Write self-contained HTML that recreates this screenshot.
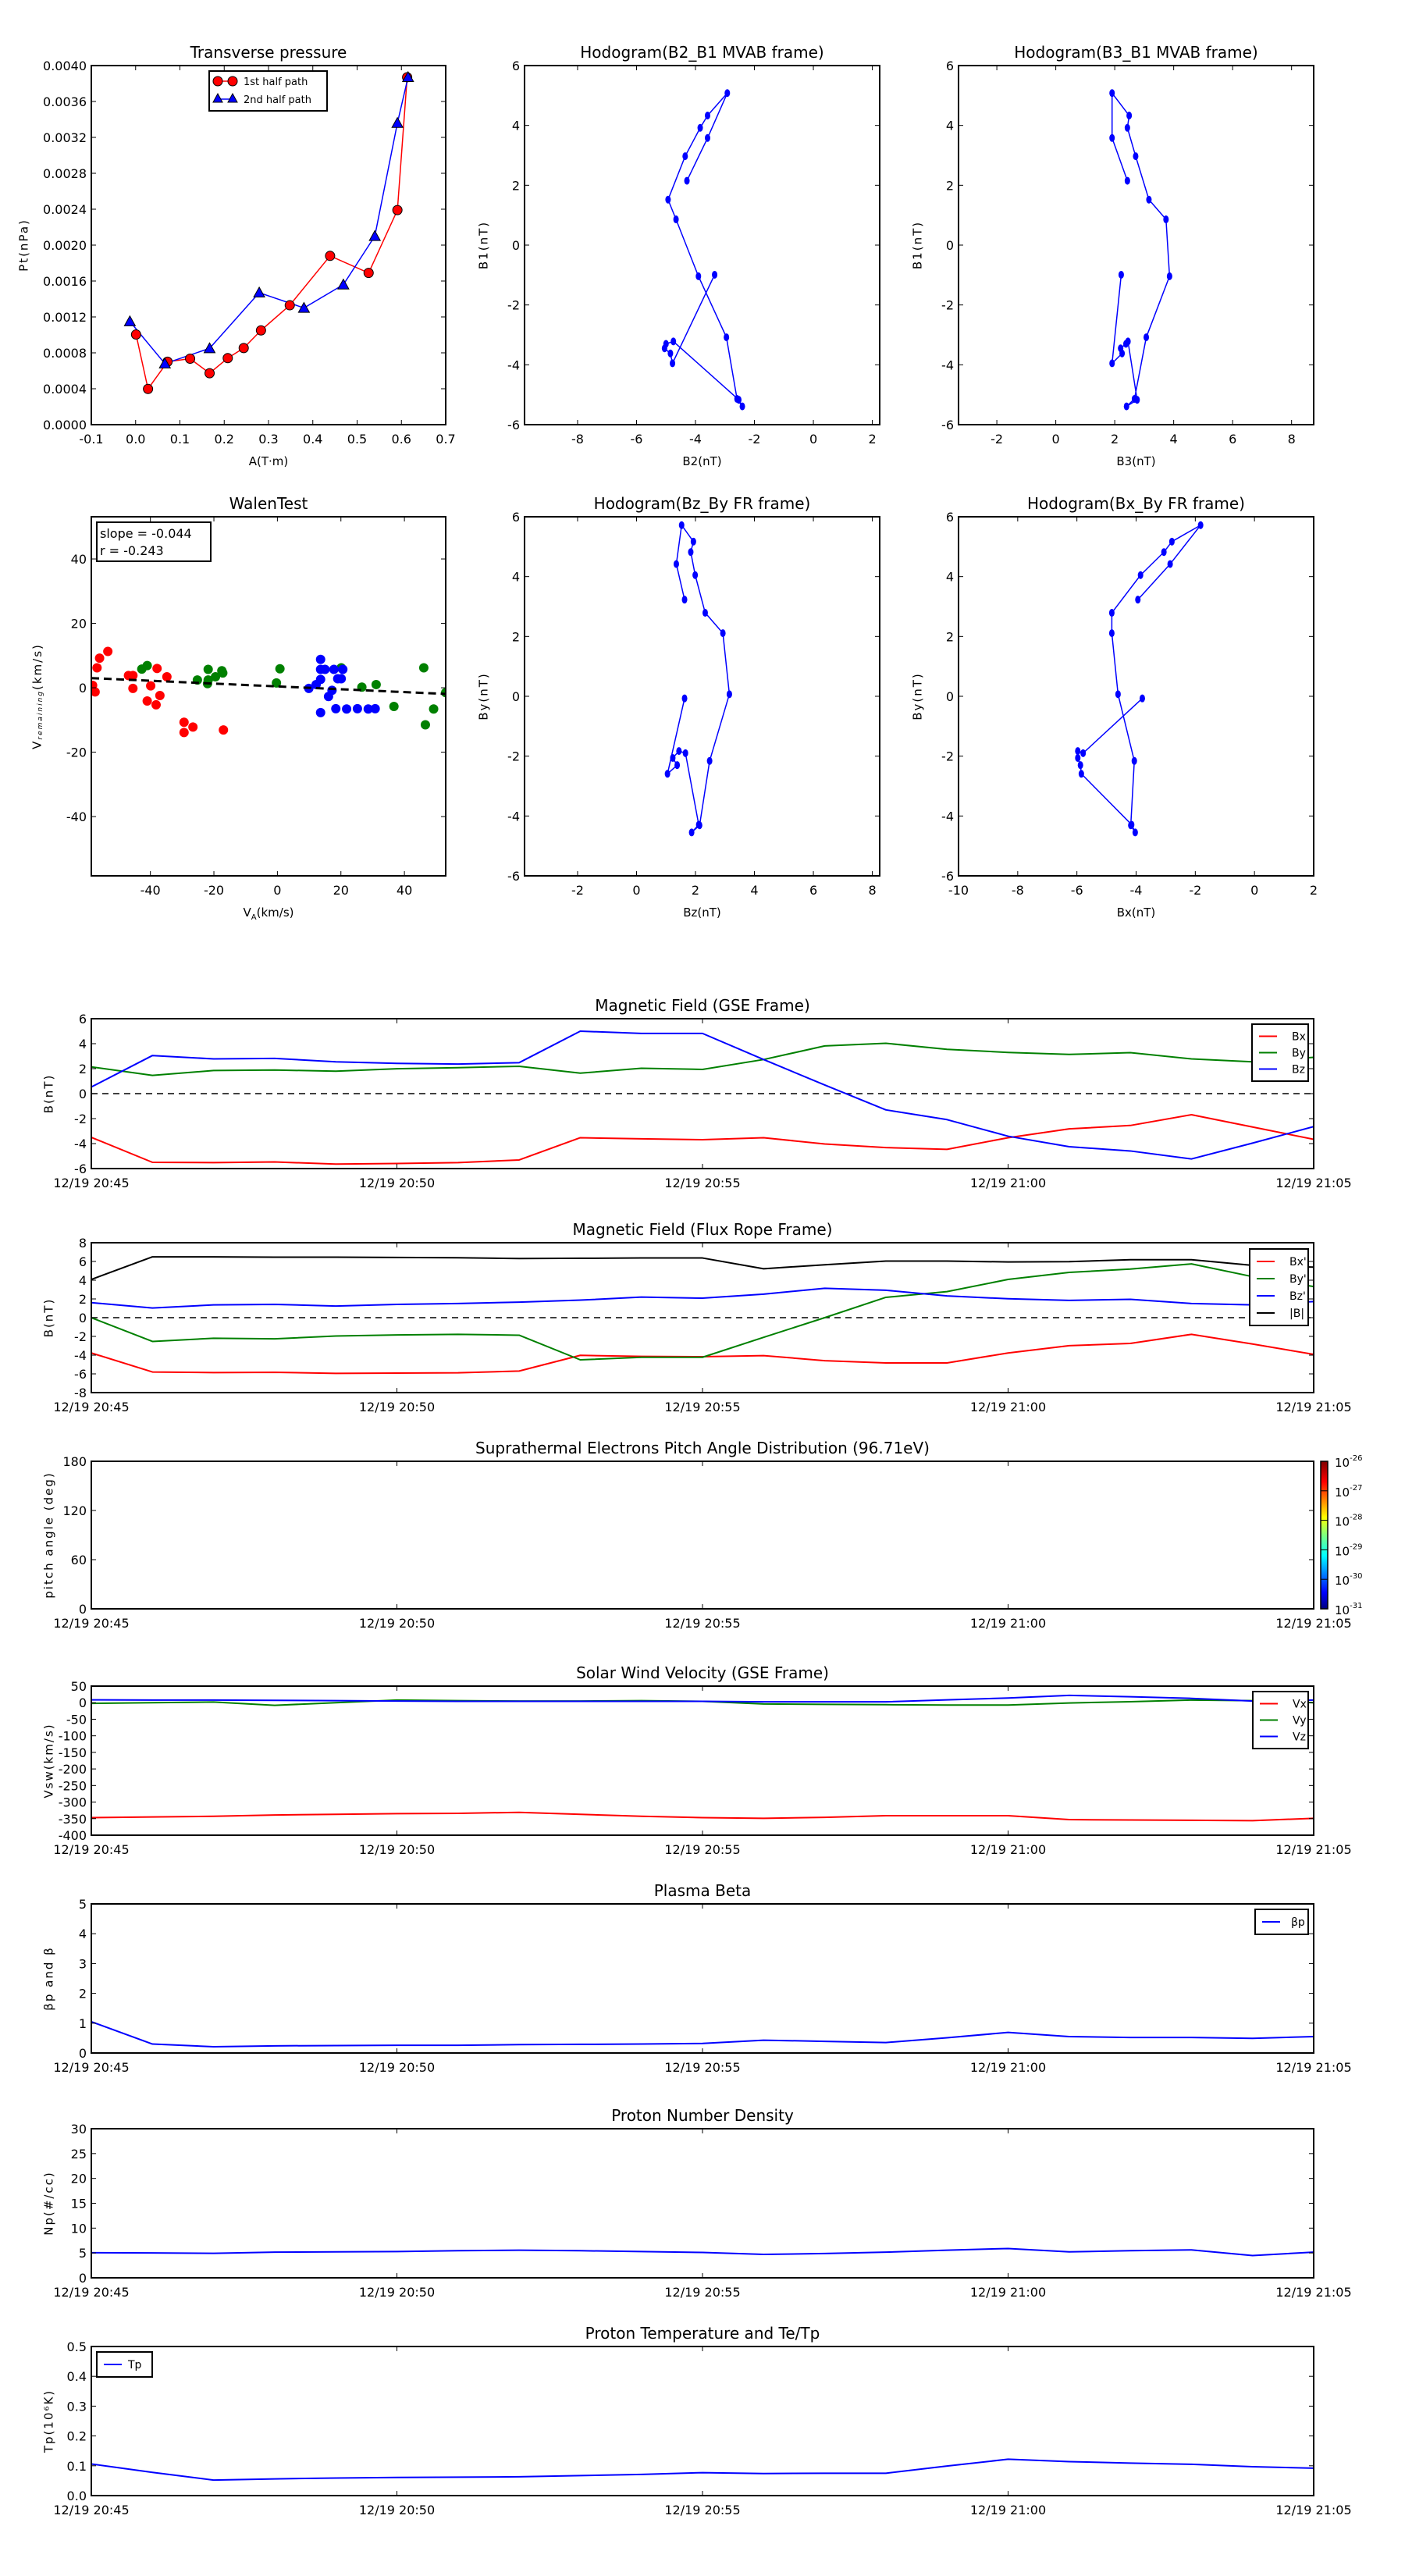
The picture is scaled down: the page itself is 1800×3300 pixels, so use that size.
<!DOCTYPE html>
<html><head><meta charset="utf-8"><title>Flux rope analysis</title>
<style>
html,body{margin:0;padding:0;background:#fff;}
svg{display:block;font-family:"DejaVu Sans","Liberation Sans",sans-serif;}
</style></head>
<body>
<svg id="fig" xmlns="http://www.w3.org/2000/svg" width="1800" height="3300" viewBox="0 0 1800 3300">
<rect x="0" y="0" width="1800" height="3300" fill="#fff"/>
</svg>
<script>
// ---------- data ----------
const ptRedA = [0.001,0.028,0.072,0.123,0.167,0.208,0.244,0.283,0.348,0.439,0.526,0.591,0.613];
const ptRedP = [0.001004,0.000398,0.000701,0.000735,0.000573,0.000741,0.000853,0.00105,0.00133,0.00188,0.00169,0.00239,0.00387];
const ptBlueA = [-0.013,0.066,0.167,0.279,0.380,0.469,0.540,0.591,0.615];
const ptBlueP = [0.00115,0.00068,0.00085,0.00147,0.0013,0.00156,0.0021,0.00336,0.00387];

const hB1 = [2.15,3.58,5.08,4.33,3.92,2.97,1.52,0.86,-1.04,-3.08,-5.14,-5.39,-5.17,-3.22,-3.30,-3.45,-3.62,-3.95,-0.99];
const hB2 = [-4.29,-3.59,-2.92,-3.59,-3.84,-4.35,-4.93,-4.66,-3.90,-2.95,-2.59,-2.41,-2.53,-4.75,-5.0,-5.05,-4.85,-4.78,-3.35];
const hB3 = [2.43,1.91,1.91,2.49,2.43,2.71,3.16,3.74,3.86,3.07,2.67,2.40,2.76,2.45,2.38,2.20,2.25,1.91,2.22];

const frBy = [3.23,4.42,5.72,5.17,4.82,4.05,2.79,2.11,0.07,-2.16,-4.31,-4.55,-4.29,-1.90,-1.83,-2.06,-2.30,-2.59,-0.07];
const frBz = [1.63,1.35,1.53,1.93,1.84,1.99,2.33,2.93,3.15,2.48,2.14,1.87,2.11,1.66,1.44,1.23,1.38,1.05,1.63];
const frBx2 = [-3.94,-2.85,-1.82,-2.79,-3.06,-3.85,-4.82,-4.82,-4.61,-4.06,-4.18,-4.03,-4.15,-5.85,-5.88,-5.97,-5.97,-5.79,-3.79];
const frBy2 = [3.23,4.42,5.72,5.17,4.82,4.05,2.79,2.11,0.07,-2.16,-4.31,-4.55,-4.29,-2.59,-2.30,-2.06,-1.83,-1.90,-0.07];

const walRedX = [-58.2,-57.4,-56.8,-56.0,-53.4,-46.9,-45.5,-45.5,-41.0,-39.9,-37.9,-37.0,-38.2,-34.8,-29.4,-29.4,-26.6,-17.0];
const walRedY = [0.75,-1.3,6.2,9.2,11.3,3.8,3.8,-0.2,-4.1,0.6,6.0,-2.4,-5.3,3.4,-10.7,-13.9,-12.2,-13.1];
const walGreenX = [-42.7,-41.0,-25.2,-21.8,-21.8,-22.0,-19.5,-17.5,-17.2,-0.3,0.8,20.1,26.6,31.1,36.7,46.1,46.6,49.2,53];
const walGreenY = [5.8,6.9,2.4,5.7,2.4,1.3,3.4,5.3,4.6,1.5,5.9,6.2,0.2,1.0,-5.8,6.2,-11.5,-6.6,-1.5];
const walBlueX = [9.9,12.2,13.6,13.6,13.6,13.6,15.0,16.1,17.2,17.8,18.4,19.0,20.1,20.6,21.8,25.2,28.6,30.8];
const walBlueY = [-0.2,1.0,2.6,8.8,5.7,-7.7,5.7,-2.7,-0.8,5.7,-6.5,2.8,2.8,5.7,-6.6,-6.5,-6.6,-6.5];
const walSlope = -0.044;
const walIntercept = 0.42;

const minutes = [0,1,2,3,4,5,6,7,8,9,10,11,12,13,14,15,16,17,18,19,20];
const timeTickMin = [0,5,10,15,20];
const timeTickLabels = ["12/19 20:45","12/19 20:50","12/19 20:55","12/19 21:00","12/19 21:05"];

const gseBx = [-3.5,-5.5,-5.52,-5.47,-5.64,-5.59,-5.52,-5.31,-3.53,-3.62,-3.69,-3.53,-4.03,-4.32,-4.46,-3.53,-2.82,-2.55,-1.69,-2.67,-3.66];
const gseBy = [2.14,1.46,1.85,1.89,1.80,1.99,2.08,2.19,1.64,2.03,1.94,2.73,3.82,4.03,3.55,3.30,3.14,3.28,2.78,2.55,2.91];
const gseBz = [0.53,3.05,2.78,2.82,2.55,2.42,2.37,2.48,5.0,4.82,4.82,2.73,0.69,-1.30,-2.08,-3.41,-4.25,-4.59,-5.23,-3.96,-2.64];

const frpBx = [-3.77,-5.8,-5.86,-5.83,-5.95,-5.92,-5.89,-5.7,-4.02,-4.14,-4.17,-4.05,-4.59,-4.83,-4.83,-3.77,-2.99,-2.75,-1.78,-2.81,-3.92];
const frpBy = [0,-2.54,-2.2,-2.26,-1.96,-1.84,-1.78,-1.87,-4.5,-4.23,-4.23,-2.1,0,2.17,2.78,4.08,4.83,5.19,5.74,4.38,3.32];
const frpBz = [1.6,1.03,1.36,1.42,1.24,1.42,1.51,1.66,1.87,2.2,2.08,2.51,3.14,2.93,2.32,2.02,1.84,1.96,1.51,1.36,1.72];
const frpBt = [4.08,6.49,6.49,6.46,6.46,6.43,6.4,6.31,6.34,6.37,6.37,5.22,5.65,6.04,6.04,5.95,5.98,6.19,6.19,5.58,5.4];

const vswVx = [-347,-345,-343,-339,-337,-335,-334,-331,-337,-343,-347,-349,-346,-341,-341,-341,-353,-354,-355,-356,-349];
const vswVy = [-2,0,2,-8,0,8,6,5,5,6,4,-4,-5,-6,-7,-7,-1,3,8,6,0];
const vswVz = [8.5,8,8,7,6,5,4,4,4,4,4,2.5,2.5,2.5,8.5,14,22,18,13,5,8];

const betaP = [1.05,0.30,0.21,0.24,0.25,0.26,0.26,0.28,0.29,0.30,0.32,0.43,0.39,0.35,0.51,0.69,0.55,0.52,0.52,0.49,0.55];
const densNp = [5.05,5.0,4.93,5.16,5.22,5.28,5.45,5.56,5.45,5.28,5.1,4.71,4.88,5.16,5.56,5.9,5.22,5.45,5.62,4.48,5.16];
const tempTp = [0.106,0.078,0.052,0.056,0.059,0.061,0.062,0.063,0.067,0.071,0.077,0.074,0.075,0.075,0.099,0.122,0.114,0.109,0.105,0.097,0.092];

const cbarLabels = ["-31","-30","-29","-28","-27","-26"];

// ---------- helpers ----------
const NS = 'http://www.w3.org/2000/svg';
const svg = document.getElementById('fig');
function mk(tag, attrs, parent){
  const e = document.createElementNS(NS, tag);
  for (const k in attrs) e.setAttribute(k, attrs[k]);
  (parent || svg).appendChild(e);
  return e;
}
function range(a, b, s){ const r=[]; for(let v=a; v<=b+s*1e-6; v+=s) r.push(+v.toFixed(10)); return r; }
let clipId = 0;

function makeAxes(name, x0, y0, w, h, xmin, xmax, ymin, ymax){
  const g = mk('g', {});
  
  
  const sx = v => x0 + (v - xmin) / (xmax - xmin) * w;
  const sy = v => y0 + h - (v - ymin) / (ymax - ymin) * h;
  clipId++;
  const cp = mk('clipPath', {id: 'c' + clipId}, g);
  mk('rect', {x: x0, y: y0, width: w, height: h}, cp);
  const plot = mk('g', {'clip-path': 'url(#c' + clipId + ')'}, g);
  
  
  return {g, plot, sx, sy, x0, y0, w, h};
}
function frame(ax){
  const r = mk('rect', {x: ax.x0, y: ax.y0, width: ax.w, height: ax.h, fill: 'none', stroke: '#000', 'stroke-width': 2}, ax.g);
  
  
}
function xTicks(ax, vals, labels){
  const tg = mk('g', {}, ax.g);
  
  
  vals.forEach((v, i) => {
    const x = ax.sx(v);
    mk('line', {x1: x, y1: ax.y0 + ax.h, x2: x, y2: ax.y0 + ax.h - 6, stroke: '#000', 'stroke-width': 1}, tg);
    mk('line', {x1: x, y1: ax.y0, x2: x, y2: ax.y0 + 6, stroke: '#000', 'stroke-width': 1}, tg);
    const t = mk('text', {x: x, y: ax.y0 + ax.h + 24, 'text-anchor': 'middle', 'font-size': 16}, tg);
    t.textContent = labels[i];
    
    
  });
}
function yTicks(ax, vals, labels){
  const tg = mk('g', {}, ax.g);
  
  
  vals.forEach((v, i) => {
    const y = ax.sy(v);
    mk('line', {x1: ax.x0, y1: y, x2: ax.x0 + 6, y2: y, stroke: '#000', 'stroke-width': 1}, tg);
    mk('line', {x1: ax.x0 + ax.w, y1: y, x2: ax.x0 + ax.w - 6, y2: y, stroke: '#000', 'stroke-width': 1}, tg);
    const t = mk('text', {x: ax.x0 - 6, y: y + 6, 'text-anchor': 'end', 'font-size': 16}, tg);
    t.textContent = labels[i];
    
    
  });
}
function title(ax, txt, dy){
  const t = mk('text', {x: ax.x0 + ax.w / 2, y: ax.y0 - (dy || 10), 'text-anchor': 'middle', 'font-size': 20}, ax.g);
  t.textContent = txt;
  
  
  return t;
}
function xLabel(ax, txt, dy){
  const t = mk('text', {x: ax.x0 + ax.w / 2, y: ax.y0 + ax.h + (dy || 52), 'text-anchor': 'middle', 'font-size': 15}, ax.g);
  t.textContent = txt;
  
  
  return t;
}
function yLabel(ax, txt, xc){
  const yc = ax.y0 + ax.h / 2;
  const t = mk('text', {x: xc, y: yc, 'text-anchor': 'middle', 'font-size': 15, 'letter-spacing': 2, transform: 'rotate(-90 ' + xc + ' ' + yc + ')', 'dominant-baseline': 'middle'}, ax.g);
  t.textContent = txt;
  
  
  return t;
}
function line(ax, xs, ys, color, width, name){
  const d = xs.map((x, i) => (i ? 'L' : 'M') + ax.sx(x).toFixed(2) + ' ' + ax.sy(ys[i]).toFixed(2)).join(' ');
  const p = mk('path', {d: d, fill: 'none', stroke: color, 'stroke-width': width, 'stroke-linejoin': 'round'}, ax.plot);
  
  
  return p;
}
function dots(ax, xs, ys, color, rx, ry, name, strokeCol){
  xs.forEach((x, i) => {
    const c = mk('ellipse', {cx: ax.sx(x), cy: ax.sy(ys[i]), rx: rx, ry: ry, fill: color, stroke: strokeCol || 'none', 'stroke-width': 1}, ax.plot);
    
    
  });
}
function tris(ax, xs, ys, color, s, name){
  xs.forEach((x, i) => {
    const cx = ax.sx(x), cy = ax.sy(ys[i]);
    const p = mk('polygon', {points: cx + ',' + (cy - s) + ' ' + (cx - s) + ',' + (cy + s * 0.8) + ' ' + (cx + s) + ',' + (cy + s * 0.8), fill: color, stroke: '#000', 'stroke-width': 1}, ax.plot);
    
    
  });
}
function legend(ax, x, y, w, entries, rowH){
  const lg = mk('g', {}, ax.g);
  
  
  mk('rect', {x: x, y: y, width: w, height: entries.length * rowH + 10, fill: '#fff', stroke: '#000', 'stroke-width': 2}, lg);
  entries.forEach((e, i) => {
    const yy = y + 5 + rowH * (i + 0.5);
    const eg = mk('g', {}, lg);
    
    
    mk('line', {x1: x + 9, y1: yy, x2: x + 32, y2: yy, stroke: e.c, 'stroke-width': 2}, eg);
    const t = mk('text', {x: x + (e.tx || 51), y: yy + 5, 'font-size': 14}, eg);
    t.textContent = e.t;
  });
  return lg;
}
function fmt(n){ return v => v.toFixed(n); }

// ---------- Transverse pressure ----------
{
  const ax = makeAxes('transverse-pressure-chart', 117, 84, 454, 460, -0.1, 0.7, 0, 0.004);
  line(ax, ptRedA, ptRedP, '#f00', 1.5, 'first-half-path-line');
  line(ax, ptBlueA, ptBlueP, '#00f', 1.5, 'second-half-path-line');
  dots(ax, ptRedA, ptRedP, '#f00', 6, 6, 'first-half-point', '#000');
  tris(ax, ptBlueA, ptBlueP, '#00f', 7, 'second-half-point');
  frame(ax);
  const xv = range(-0.1, 0.7, 0.1); xTicks(ax, xv, xv.map(fmt(1)));
  const yv = range(0, 0.004, 0.0004); yTicks(ax, yv, yv.map(fmt(4)));
  title(ax, 'Transverse pressure');
  xLabel(ax, 'A(T·m)');
  yLabel(ax, 'Pt(nPa)', 31);
  const lg = mk('g', {}, ax.g);
  
  
  mk('rect', {x: 268, y: 91, width: 151, height: 51, fill: '#fff', stroke: '#000', 'stroke-width': 2}, lg);
  mk('line', {x1: 279, y1: 104, x2: 298, y2: 104, stroke: '#f00', 'stroke-width': 1.5}, lg);
  mk('circle', {cx: 279, cy: 104, r: 6, fill: '#f00', stroke: '#000'}, lg);
  mk('circle', {cx: 298, cy: 104, r: 6, fill: '#f00', stroke: '#000'}, lg);
  mk('line', {x1: 279, y1: 127, x2: 298, y2: 127, stroke: '#00f', 'stroke-width': 1.5}, lg);
  mk('polygon', {points: '279,120 273,131 285,131', fill: '#00f', stroke: '#000'}, lg);
  mk('polygon', {points: '298,120 292,131 304,131', fill: '#00f', stroke: '#000'}, lg);
  const t1 = mk('text', {x: 312, y: 109, 'font-size': 13}, lg); t1.textContent = '1st half path';
  const t2 = mk('text', {x: 312, y: 132, 'font-size': 13}, lg); t2.textContent = '2nd half path';
}

// ---------- Hodograms ----------
function hodo(name, x0, y0, xmin, xmax, xs, ys, xtv, ttl, xl, yl){
  const ax = makeAxes(name, x0, y0, 455, 460, xmin, xmax, -6, 6);
  line(ax, xs, ys, '#00f', 1.5, 'hodogram-path');
  dots(ax, xs, ys, '#00f', 3.5, 5, 'hodogram-point');
  frame(ax);
  xTicks(ax, xtv, xtv.map(v => String(v)));
  const yv = range(-6, 6, 2); yTicks(ax, yv, yv.map(v => String(v)));
  title(ax, ttl);
  xLabel(ax, xl);
  yLabel(ax, yl, x0 - 52);
}
hodo('hodogram-b2-b1', 672, 84, -9.8, 2.25, hB2, hB1, [-8,-6,-4,-2,0,2], 'Hodogram(B2_B1 MVAB frame)', 'B2(nT)', 'B1(nT)');
hodo('hodogram-b3-b1', 1228, 84, -3.3, 8.75, hB3, hB1, [-2,0,2,4,6,8], 'Hodogram(B3_B1 MVAB frame)', 'B3(nT)', 'B1(nT)');
hodo('hodogram-bz-by', 672, 662, -3.8, 8.25, frBz, frBy, [-2,0,2,4,6,8], 'Hodogram(Bz_By FR frame)', 'Bz(nT)', 'By(nT)');
hodo('hodogram-bx-by', 1228, 662, -10, 2, frBx2, frBy2, [-10,-8,-6,-4,-2,0,2], 'Hodogram(Bx_By FR frame)', 'Bx(nT)', 'By(nT)');

// ---------- Walen test ----------
{
  const ax = makeAxes('walen-test-chart', 117, 662, 454, 460, -58.6, 53, -58.4, 53.1);
  dots(ax, walRedX, walRedY, '#f00', 6, 6, 'walen-point-red');
  dots(ax, walGreenX, walGreenY, '#008000', 6, 6, 'walen-point-green');
  dots(ax, walBlueX, walBlueY, '#00f', 6, 6, 'walen-point-blue');
  const fx = [-58.6, 53];
  const fy = fx.map(v => walSlope * v + walIntercept);
  const fl = line(ax, fx, fy, '#000', 3, 'regression-line');
  fl.setAttribute('stroke-dasharray', '10,6');
  frame(ax);
  xTicks(ax, [-40,-20,0,20,40], ['-40','-20','0','20','40']);
  yTicks(ax, [-40,-20,0,20,40], ['-40','-20','0','20','40']);
  title(ax, 'WalenTest');
  const xl = xLabel(ax, 'V'); const s = mk('tspan', {'font-size': 10, dy: 4}, xl); s.textContent = 'A'; const s2 = mk('tspan', {dy: -4}, xl); s2.textContent = '(km/s)';
  const yl = yLabel(ax, 'V', 48); const s3 = mk('tspan', {'font-size': 9, dy: 3, 'font-style': 'italic'}, yl); s3.textContent = 'remaining'; const s4 = mk('tspan', {dy: -3}, yl); s4.textContent = '(km/s)';
  const lg = mk('g', {}, ax.g);
  
  
  mk('rect', {x: 124, y: 669, width: 146, height: 50, fill: '#fff', stroke: '#000', 'stroke-width': 2}, lg);
  const a = mk('text', {x: 128, y: 689, 'font-size': 16}, lg); a.textContent = 'slope = ' + walSlope.toFixed(3);
  const b = mk('text', {x: 128, y: 711, 'font-size': 16}, lg); b.textContent = 'r = -0.243';
}

// ---------- Time series ----------
function tsAxes(name, y0, h, ymin, ymax, yv, yfmt, ttl, yl){
  const ax = makeAxes(name, 117, y0, 1566, h, 0, 20, ymin, ymax);
  ax.finish = () => {
    frame(ax);
    xTicks(ax, timeTickMin, timeTickLabels);
    yTicks(ax, yv, yv.map(yfmt));
    title(ax, ttl);
    yLabel(ax, yl, 63);
  };
  return ax;
}
function zeroLine(ax){
  const z = line(ax, [0, 20], [0, 0], '#000', 1.5, 'zero-line');
  z.setAttribute('stroke-dasharray', '8,6');
}
{
  const ax = tsAxes('gse-magnetic-field-chart', 1305, 192, -6, 6, range(-6, 6, 2), v => String(v), 'Magnetic Field (GSE Frame)', 'B(nT)');
  zeroLine(ax);
  line(ax, minutes, gseBx, '#f00', 2, 'bx-line');
  line(ax, minutes, gseBy, '#008000', 2, 'by-line');
  line(ax, minutes, gseBz, '#00f', 2, 'bz-line');
  ax.finish();
  legend(ax, 1604, 1312, 72, [{t:'Bx',c:'#f00'},{t:'By',c:'#008000'},{t:'Bz',c:'#00f'}], 21);
}
{
  const ax = tsAxes('flux-rope-magnetic-field-chart', 1592, 192, -8, 8, range(-8, 8, 2), v => String(v), 'Magnetic Field (Flux Rope Frame)', 'B(nT)');
  zeroLine(ax);
  line(ax, minutes, frpBx, '#f00', 2, 'bx-prime-line');
  line(ax, minutes, frpBy, '#008000', 2, 'by-prime-line');
  line(ax, minutes, frpBz, '#00f', 2, 'bz-prime-line');
  line(ax, minutes, frpBt, '#000', 2, 'b-magnitude-line');
  ax.finish();
  legend(ax, 1601, 1600, 75, [{t:"Bx'",c:'#f00'},{t:"By'",c:'#008000'},{t:"Bz'",c:'#00f'},{t:'|B|',c:'#000'}], 22);
}
{
  const ax = tsAxes('pitch-angle-chart', 1872, 189, 0, 180, [0,60,120,180], v => String(v), 'Suprathermal Electrons Pitch Angle Distribution (96.71eV)', 'pitch angle (deg)');
  ax.finish();
  const defs = mk('defs', {});
  const lgr = mk('linearGradient', {id: 'jet', x1: 0, y1: 1, x2: 0, y2: 0}, defs);
  [['0','#00007f'],['0.11','#0000ff'],['0.36','#00ffff'],['0.5','#7fff7f'],['0.62','#ffff00'],['0.86','#ff0000'],['1','#7f0000']].forEach(s => mk('stop', {offset: s[0], 'stop-color': s[1]}, lgr));
  const cb = mk('g', {});
  
  
  mk('rect', {x: 1692, y: 1872, width: 9, height: 189, fill: 'url(#jet)', stroke: '#000', 'stroke-width': 1.5}, cb);
  cbarLabels.forEach((l, i) => {
    const y = 2061 - i * 189 / 5;
    mk('line', {x1: 1692, y1: y, x2: 1701, y2: y, stroke: '#000', 'stroke-width': 1}, cb);
    const t = mk('text', {x: 1710, y: y + 7, 'font-size': 15}, cb);
    t.textContent = '10';
    const sp = mk('tspan', {'font-size': 10, dy: -8}, t);
    sp.textContent = l;
  });
}
{
  const ax = tsAxes('solar-wind-velocity-chart', 2160, 191, -400, 50, range(-400, 50, 50), v => String(v), 'Solar Wind Velocity (GSE Frame)', 'Vsw(km/s)');
  line(ax, minutes, vswVx, '#f00', 2, 'vx-line');
  line(ax, minutes, vswVy, '#008000', 2, 'vy-line');
  line(ax, minutes, vswVz, '#00f', 2, 'vz-line');
  ax.finish();
  legend(ax, 1605, 2167, 71, [{t:'Vx',c:'#f00'},{t:'Vy',c:'#008000'},{t:'Vz',c:'#00f'}], 21);
}
{
  const ax = tsAxes('plasma-beta-chart', 2439, 191, 0, 5, range(0, 5, 1), v => String(v), 'Plasma Beta', 'βp and β');
  line(ax, minutes, betaP, '#00f', 2, 'beta-p-line');
  ax.finish();
  legend(ax, 1608, 2446, 68, [{t:'βp',c:'#00f',tx:46}], 22);
}
{
  const ax = tsAxes('proton-density-chart', 2727, 191, 0, 30, range(0, 30, 5), v => String(v), 'Proton Number Density', 'Np(#/cc)');
  line(ax, minutes, densNp, '#00f', 2, 'np-line');
  ax.finish();
}
{
  const ax = tsAxes('proton-temperature-chart', 3006, 191, 0, 0.5, range(0, 0.5, 0.1), fmt(1), 'Proton Temperature and Te/Tp', 'Tp(10⁶K)');
  line(ax, minutes, tempTp, '#00f', 2, 'tp-line');
  ax.finish();
  legend(ax, 124, 3013, 71, [{t:'Tp',c:'#00f',tx:40}], 22);
}
</script>
</body></html>
